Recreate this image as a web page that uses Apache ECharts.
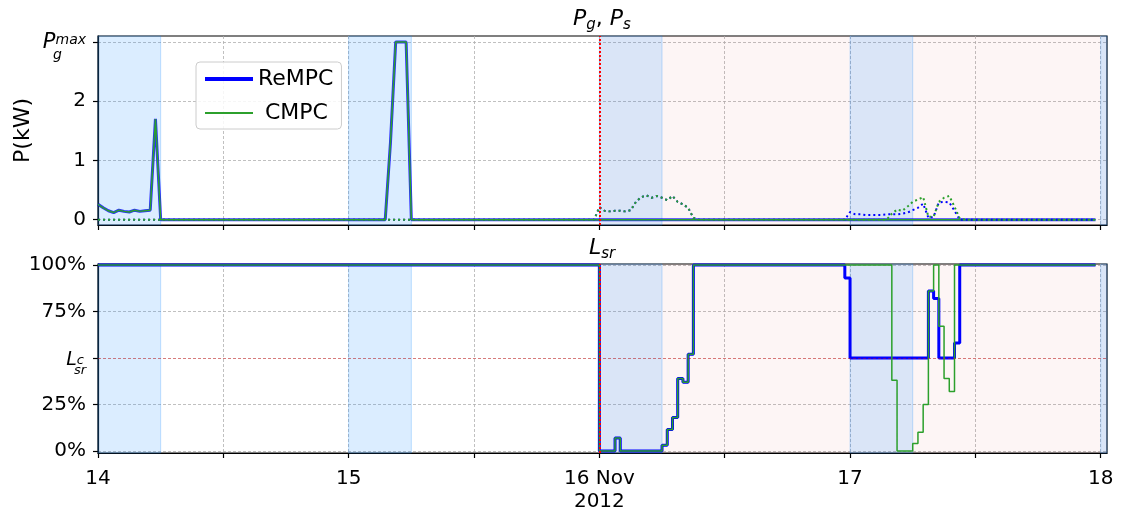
<!DOCTYPE html>
<html>
<head>
<meta charset="utf-8">
<script src="https://cdn.jsdelivr.net/npm/echarts@6/dist/echarts.min.js"></script>
<style>
  html, body { margin: 0; padding: 0; background: #fff; }
  #chart { width: 1121px; height: 510px; }
</style>
</head>
<body>
<div id="chart"></div>
<script>
// time = hours since 14 Nov 2012 00:00 (30 min steps)
const xMaxHour = 96.6;
const forecastStart = 48;
const dayBands = [[0, 6], [24, 30], [48, 54], [72, 78], [96, 96.6]];

const xTickValues = [0, 12, 24, 36, 48, 60, 72, 84, 96];
const xLabelValues = [0, 24, 48, 72, 96];
const xLabelText = ['14', '15', '16 Nov\n2012', '17', '18'];

const pTickValues = [0, 1, 2, 3];
const pTickText = ['0', '1', '2', '{gap| }\n{P|P}{sup|max}\n{pad| }{sub|g}'];
const lsrTickValues = [0, 25, 50, 75, 100];
const lsrTickText = ['0%', '25%', '{gap| }\n{L|L}{sup|c}\n{pad| }{sub|sr}', '75%', '100%'];

// P_g (kW), solid
const pgReMPC = [[0,0.26],[0.5,0.2],[1,0.15],[1.5,0.12],[2,0.16],[2.5,0.14],[3,0.13],[3.5,0.16],[4,0.14],[4.5,0.15],[5,0.16],[5.5,1.7],[6,0],
    [27.5,0],[28,1.3],[28.5,3.0],[29,3.0],[29.5,3.0],[30,0],[95.5,0]];
const pgCMPC = [[0,0.26],[0.5,0.2],[1,0.15],[1.5,0.12],[2,0.16],[2.5,0.14],[3,0.13],[3.5,0.16],[4,0.14],[4.5,0.15],[5,0.16],[5.5,1.7],[6,0],
    [27.5,0],[28,1.3],[28.5,3.0],[29,3.0],[29.5,3.0],[30,0],[95.5,0]];
// P_s (kW), dotted
const psReMPC = [[0,0],[47.5,0],[48,0.21],[48.5,0.15],[49,0.14],[49.5,0.15],[50,0.15],[50.5,0.14],[51,0.16],[51.5,0.30],[52,0.38],[52.5,0.41],
    [53,0.37],[53.5,0.40],[54,0.37],[54.5,0.33],[55,0.40],[55.5,0.30],[56,0.26],[56.5,0.20],[57,0.03],[57.5,0],
    [71.5,0],[72,0.13],[72.5,0.09],[73,0.09],[73.5,0.08],[74,0.08],[74.5,0.08],[75,0.08],[75.5,0.09],[76,0.09],[76.5,0.09],[77,0.10],
    [77.5,0.12],[78,0.16],[78.5,0.20],[79,0.27],[79.5,0.03],[80,0.05],[80.5,0.29],[81,0.30],[81.5,0.29],[82,0.15],[82.5,0],[95.5,0]];
const psCMPC = [[0,0],[47.5,0],[48,0.21],[48.5,0.15],[49,0.14],[49.5,0.15],[50,0.15],[50.5,0.14],[51,0.16],[51.5,0.30],[52,0.38],[52.5,0.41],
    [53,0.37],[53.5,0.40],[54,0.37],[54.5,0.33],[55,0.40],[55.5,0.30],[56,0.26],[56.5,0.20],[57,0.03],[57.5,0],
    [75.5,0],[76,0.10],[76.5,0.17],[77,0.15],[77.5,0.22],[78,0.30],[78.5,0.34],[79,0.38],[79.5,0.05],[80,0.05],[80.5,0.30],
    [81,0.37],[81.5,0.40],[82,0.22],[82.5,0.02],[83,0],[95.5,0]];
// L_sr (%), value holds until next point
const lsrReMPC = [[0,100],[48,0],[49.5,7],[50,0],[54,3],[54.5,11.5],[55,18],[55.5,39],[56,37],[56.5,52],[57,100],
    [71.5,93],[72,50],[79.5,86],[80,82],[80.5,50],[82,58],[82.5,100],[95.5,100]];
const lsrCMPC = [[0,100],[48,0],[49.5,7],[50,0],[54,3],[54.5,11.5],[55,18],[55.5,39],[56,37],[56.5,52],[57,100],
    [76,38],[76.5,0],[78,4],[78.5,10],[79,25],[79.5,86],[80,100],[80.5,67],[81,39],[81.5,32],[82,100],[95.5,100]];
const lsrCritical = 50;

const FONT = 'DejaVu Sans';
const BLUE = '#0000ff';
const GREEN = '#2ca02c';

const gridLine = {show: true, lineStyle: {color: '#b0b0b0', type: [3, 2], width: 0.8}};
const blackLine = {color: '#000', width: 1.2};

// shaded periods
const bandAreas = [[{xAxis: forecastStart, itemStyle: {color: 'rgba(220,60,60,0.05)', borderWidth: 0}}, {xAxis: xMaxHour}]]
    .concat(dayBands.map(b => [{xAxis: b[0], itemStyle: {color: 'rgba(30,144,255,0.16)', borderColor: 'rgba(30,144,255,0.25)', borderWidth: 1}}, {xAxis: b[1]}]));
const markBands = {silent: true, label: {show: false}, data: bandAreas};

function xAxisFor(idx, showLabel) {
    return {
        type: 'value', gridIndex: idx, min: 0, max: xMaxHour, interval: 12,
        axisLine: {show: true, onZero: false, lineStyle: blackLine},
        axisTick: {show: true, length: 5, lineStyle: blackLine, customValues: xTickValues},
        axisLabel: {
            show: showLabel, customValues: xLabelValues, margin: 14,
            fontSize: 20, lineHeight: 23, color: '#000', fontFamily: FONT,
            formatter: v => xLabelText[xLabelValues.indexOf(v)] || ''
        },
        splitLine: gridLine
    };
}

const chart = echarts.init(document.getElementById('chart'));
chart.setOption({
    animation: false,
    textStyle: {fontFamily: FONT},
    graphic: [
        {type: 'text', x: 602, y: 19, style: {
            text: '{i|P}{s|g}{n|, }{i|P}{s|s}', align: 'center', verticalAlign: 'middle',
            rich: {
                i: {fontSize: 22, fontStyle: 'italic', fontFamily: FONT, lineHeight: 28, fill: '#000'},
                n: {fontSize: 22, fontFamily: FONT, lineHeight: 28, fill: '#000'},
                s: {fontSize: 15, fontStyle: 'italic', fontFamily: FONT, lineHeight: 12, verticalAlign: 'bottom', fill: '#000'}
            }}},
        {type: 'text', x: 602, y: 248, style: {
            text: '{i|L}{s|sr}', align: 'center', verticalAlign: 'middle',
            rich: {
                i: {fontSize: 22, fontStyle: 'italic', fontFamily: FONT, lineHeight: 28, fill: '#000'},
                s: {fontSize: 15, fontStyle: 'italic', fontFamily: FONT, lineHeight: 12, verticalAlign: 'bottom', fill: '#000'}
            }}}
    ],
    legend: {
        data: [
            {name: 'ReMPC', lineStyle: {width: 4, opacity: 1}},
            {name: ' CMPC', lineStyle: {width: 2}}
        ],
        orient: 'vertical', left: 196, top: 62,
        itemWidth: 48, itemHeight: 14, itemGap: 12, padding: [6, 8, 5, 7],
        itemStyle: {opacity: 0},
        backgroundColor: 'rgba(255,255,255,0.85)', borderColor: '#cccccc', borderWidth: 1, borderRadius: 4,
        textStyle: {fontSize: 22, fontFamily: FONT, color: '#000'}
    },
    grid: [
        {left: 98, top: 36, width: 1009, height: 189, show: true, borderColor: '#000', borderWidth: 1.2,
            backgroundColor: 'transparent', outerBoundsMode: 'none'},
        {left: 98, top: 264, width: 1009, height: 189, show: true, borderColor: '#000', borderWidth: 1.2,
            backgroundColor: 'transparent', outerBoundsMode: 'none'}
    ],
    xAxis: [xAxisFor(0, false), xAxisFor(1, true)],
    yAxis: [
        {
            type: 'value', gridIndex: 0, min: -0.09, max: 3.1, splitNumber: 3,
            axisLine: {show: true, lineStyle: blackLine},
            axisTick: {show: true, length: 5, lineStyle: blackLine, customValues: pTickValues},
            axisLabel: {
                customValues: pTickValues, margin: 12, fontSize: 20, color: '#000', fontFamily: FONT,
                formatter: v => pTickText[pTickValues.indexOf(v)] || '',
                rich: {
                    gap: {lineHeight: 6, fontSize: 2},
                    P: {fontSize: 21, fontStyle: 'italic', fontFamily: FONT, width: 14, lineHeight: 20, color: '#000'},
                    sup: {fontSize: 14, fontStyle: 'italic', fontFamily: FONT, lineHeight: 12, verticalAlign: 'top', color: '#000'},
                    pad: {width: 11, lineHeight: 4, fontSize: 4},
                    sub: {fontSize: 14, fontStyle: 'italic', fontFamily: FONT, lineHeight: 4, padding: [0, 24, 0, 0], color: '#000'}
                }
            },
            splitLine: gridLine,
            name: 'P(kW)', nameLocation: 'middle', nameGap: 64, nameMoveOverlap: false,
            nameTextStyle: {fontSize: 22, color: '#000', fontFamily: FONT}
        },
        {
            type: 'value', gridIndex: 1, min: -1.1, max: 100.5,
            axisLine: {show: true, lineStyle: blackLine},
            axisTick: {show: true, length: 5, lineStyle: blackLine, customValues: lsrTickValues},
            axisLabel: {
                customValues: lsrTickValues, margin: 12, fontSize: 20, color: '#000', fontFamily: FONT,
                formatter: v => lsrTickText[lsrTickValues.indexOf(v)] || '',
                rich: {
                    gap: {lineHeight: 10, fontSize: 2},
                    L: {fontSize: 19, fontStyle: 'italic', fontFamily: FONT, width: 12, lineHeight: 16, verticalAlign: 'bottom', color: '#000'},
                    sup: {fontSize: 13, fontStyle: 'italic', fontFamily: FONT, lineHeight: 4, verticalAlign: 'top', padding: [0, 2, 0, 0], color: '#000'},
                    pad: {width: 10, lineHeight: 2, fontSize: 2},
                    sub: {fontSize: 13, fontStyle: 'italic', fontFamily: FONT, lineHeight: 2, color: '#000'}
                }
            },
            splitLine: gridLine
        }
    ],
    series: [
        {
            name: 'ReMPC', type: 'line', xAxisIndex: 0, yAxisIndex: 0, data: pgReMPC,
            symbol: 'none', clip: false, color: BLUE,
            lineStyle: {color: BLUE, width: 3, opacity: 0.8},
            markArea: markBands
        },
        {
            name: ' CMPC', type: 'line', xAxisIndex: 0, yAxisIndex: 0, data: pgCMPC,
            symbol: 'none', clip: false, color: GREEN,
            lineStyle: {color: GREEN, width: 1.5}
        },
        {
            name: 'ReMPC Ps', type: 'line', xAxisIndex: 0, yAxisIndex: 0, data: psReMPC,
            symbol: 'none', clip: false,
            lineStyle: {color: BLUE, width: 2, type: [2, 3]}
        },
        {
            name: 'CMPC Ps', type: 'line', xAxisIndex: 0, yAxisIndex: 0, data: psCMPC,
            symbol: 'none', clip: false,
            lineStyle: {color: GREEN, width: 2, type: [2, 3]},
            markLine: {
                silent: true, symbol: ['none', 'none'], label: {show: false},
                lineStyle: {color: '#ff0000', width: 2, type: [2, 2]},
                data: [{xAxis: forecastStart}]
            }
        },
        {
            name: 'ReMPC', type: 'line', xAxisIndex: 1, yAxisIndex: 1, data: lsrReMPC,
            step: 'end', symbol: 'none', clip: false, color: BLUE,
            lineStyle: {color: BLUE, width: 3},
            markArea: markBands
        },
        {
            name: ' CMPC', type: 'line', xAxisIndex: 1, yAxisIndex: 1, data: lsrCMPC,
            step: 'end', symbol: 'none', clip: false, color: GREEN,
            lineStyle: {color: GREEN, width: 1.5},
            markLine: {
                silent: true, symbol: ['none', 'none'], label: {show: false},
                data: [
                    {xAxis: forecastStart, lineStyle: {color: '#ff0000', width: 2, type: [2, 2]}},
                    {yAxis: lsrCritical, lineStyle: {color: 'rgba(255,0,0,0.45)', width: 0.8, type: [3, 2]}}
                ]
            }
        }
    ]
});
</script>
</body>
</html>
